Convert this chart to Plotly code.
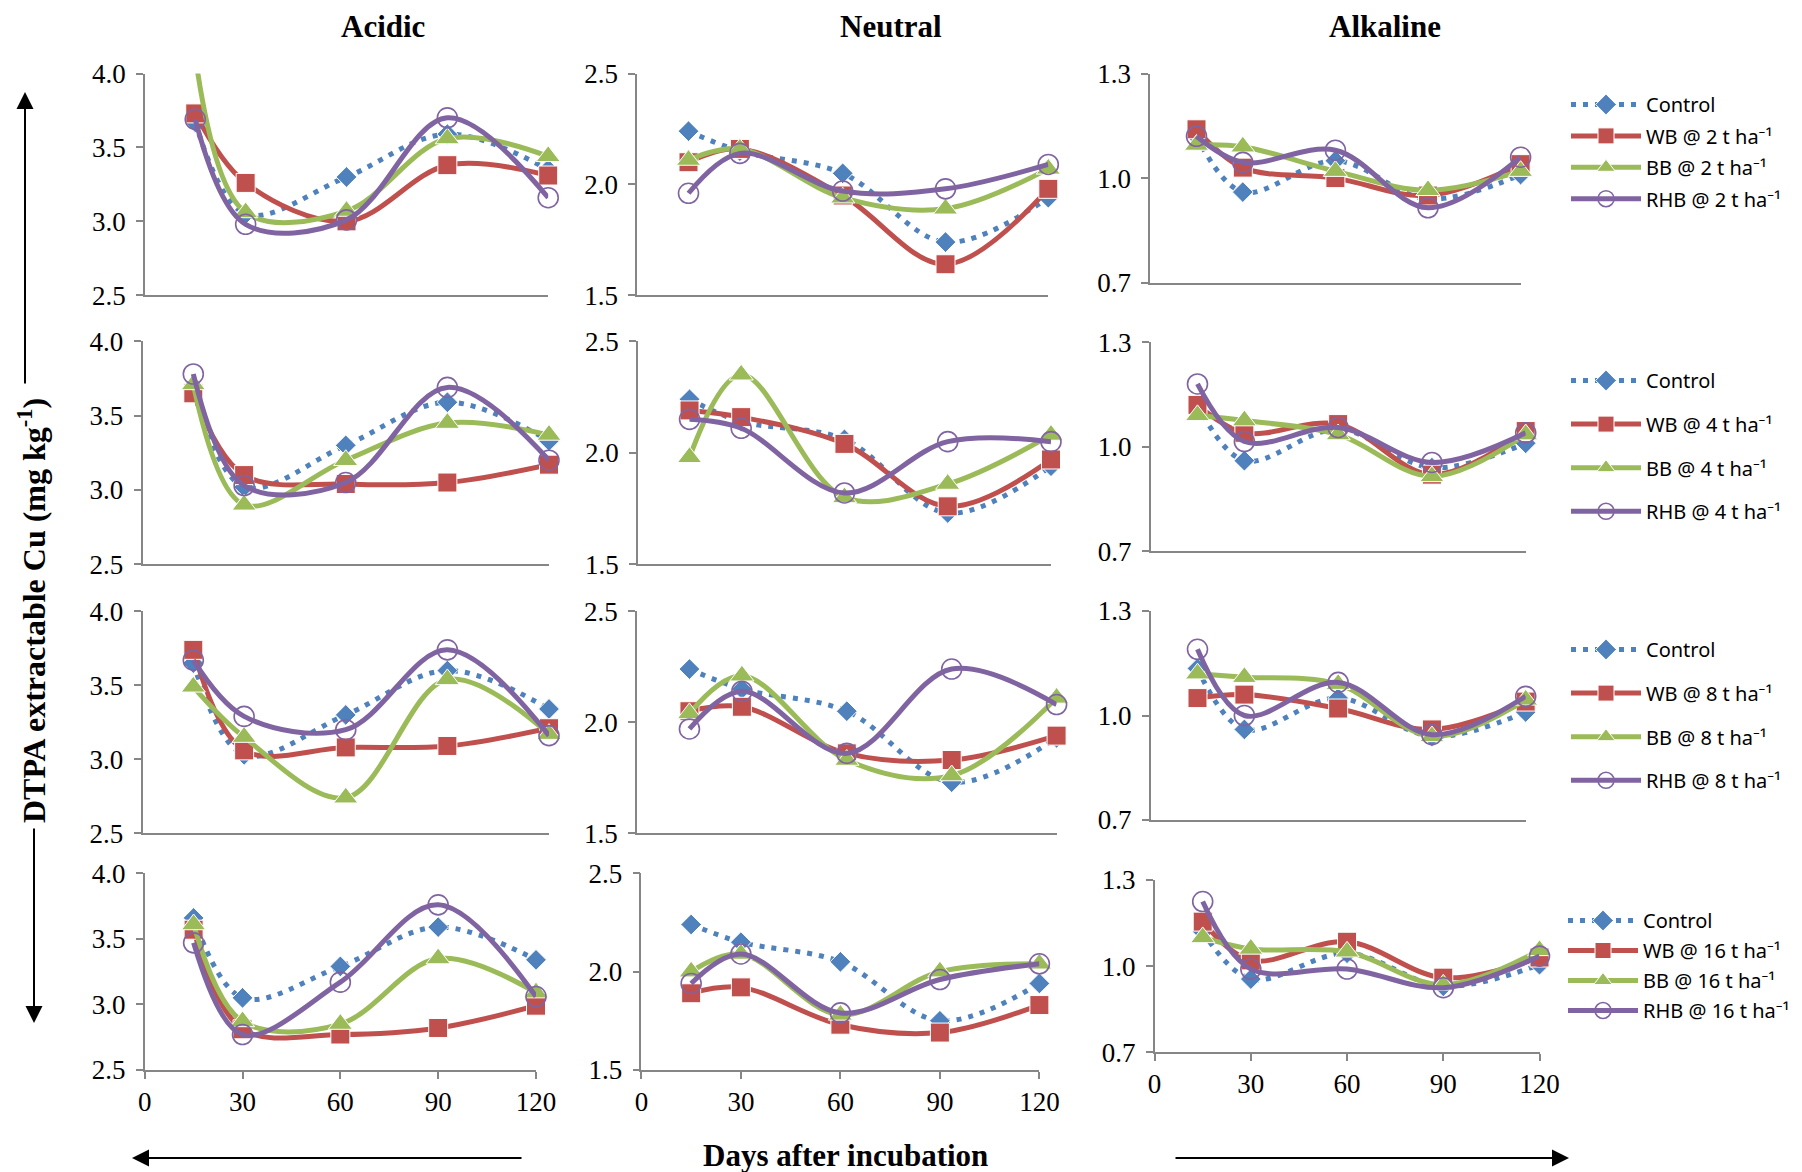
import plotly.graph_objects as go

W, H = 1802, 1172
OFF = 8  # page body margin: figure is drawn 8 px right/down of the window corner

# ---------------- data ----------------
days = [15, 30, 60, 90, 120]
soil_types = ["Acidic", "Neutral", "Alkaline"]
rates = [2, 4, 8, 16]
treatments = ["Control", "WB", "BB", "RHB"]

# each list: one row per application rate (2, 4, 8, 16 t/ha), values at `days`
acidic_control = [[3.67, 3.05, 3.30, 3.59, 3.35], [3.68, 3.02, 3.30, 3.59, 3.33],
                  [3.65, 3.03, 3.30, 3.60, 3.34], [3.66, 3.05, 3.29, 3.59, 3.34]]
acidic_wb = [[3.73, 3.26, 3.00, 3.38, 3.31], [3.65, 3.10, 3.04, 3.05, 3.17],
             [3.74, 3.06, 3.08, 3.09, 3.21], [3.57, 2.81, 2.77, 2.82, 2.99]]
acidic_bb = [[4.12, 3.06, 3.07, 3.56, 3.44], [3.71, 2.90, 3.20, 3.45, 3.37],
             [3.49, 3.15, 2.74, 3.54, 3.17], [3.61, 2.87, 2.85, 3.35, 3.09]]
acidic_rhb = [[3.69, 2.98, 3.01, 3.70, 3.16], [3.78, 3.03, 3.05, 3.69, 3.20],
              [3.67, 3.29, 3.20, 3.74, 3.16], [3.47, 2.77, 3.17, 3.76, 3.06]]

neutral_control = [[2.24, 2.15, 2.05, 1.74, 1.94], [2.24, 2.14, 2.06, 1.73, 1.94],
                   [2.24, 2.15, 2.05, 1.73, 1.93], [2.24, 2.15, 2.05, 1.75, 1.94]]
neutral_wb = [[2.10, 2.16, 1.95, 1.64, 1.98], [2.19, 2.16, 2.04, 1.76, 1.97],
              [2.05, 2.07, 1.86, 1.83, 1.94], [1.89, 1.92, 1.73, 1.69, 1.83]]
neutral_bb = [[2.11, 2.16, 1.94, 1.89, 2.07], [1.98, 2.35, 1.80, 1.86, 2.08],
              [2.04, 2.21, 1.83, 1.76, 2.11], [2.00, 2.09, 1.78, 2.00, 2.04]]
neutral_rhb = [[1.96, 2.14, 1.97, 1.98, 2.09], [2.15, 2.11, 1.82, 2.05, 2.05],
               [1.97, 2.14, 1.86, 2.24, 2.08], [1.94, 2.09, 1.79, 1.96, 2.04]]

alkaline_control = [[1.12, 0.96, 1.05, 0.94, 1.01], [1.12, 0.96, 1.05, 0.94, 1.01],
                    [1.135, 0.96, 1.05, 0.94, 1.01], [1.12, 0.955, 1.045, 0.93, 1.005]]
alkaline_wb = [[1.14, 1.03, 1.00, 0.95, 1.04], [1.12, 1.04, 1.065, 0.92, 1.045],
               [1.05, 1.06, 1.02, 0.96, 1.04], [1.155, 1.02, 1.085, 0.96, 1.03]]
alkaline_bb = [[1.095, 1.09, 1.02, 0.965, 1.02], [1.09, 1.075, 1.035, 0.915, 1.035],
               [1.12, 1.11, 1.09, 0.94, 1.045], [1.10, 1.06, 1.05, 0.935, 1.055]]
alkaline_rhb = [[1.12, 1.045, 1.08, 0.915, 1.06], [1.18, 1.015, 1.055, 0.955, 1.04],
                [1.19, 1.00, 1.095, 0.945, 1.055], [1.225, 0.99, 0.99, 0.925, 1.035]]

y_ranges = [(2.5, 4.0), (1.5, 2.5), (0.7, 1.3)]
y_dticks = [0.5, 0.5, 0.3]
x_ticks = [0, 30, 60, 90, 120]

series = [
    [acidic_control, acidic_wb, acidic_bb, acidic_rhb],
    [neutral_control, neutral_wb, neutral_bb, neutral_rhb],
    [alkaline_control, alkaline_wb, alkaline_bb, alkaline_rhb],
]

# ---------------- layout geometry (window pixels) ----------------
X_PX = [
    [(144.8, 548.2), (142.5, 549.0), (142.5, 549.0), (144.7, 536.0)],
    [(637.1, 1048.3), (637.9, 1051.0), (637.0, 1056.6), (641.4, 1039.4)],
    [(1150.2, 1520.6), (1150.6, 1525.7), (1150.6, 1525.7), (1154.6, 1539.5)],
]
Y_AN = [(73.5, 295.3), (341.3, 564.3), (611.4, 833.2), (873.4, 1069.9)]
Y_PX = [Y_AN, Y_AN, [(73.5, 282.7), (342.1, 551.4), (611.0, 820.0), (880.0, 1052.3)]]


def px(x):
    return (x - OFF) / W


def py(y):
    return 1 - (y - OFF) / H


COLORS = {"Control": "#4F81BD", "WB": "#C0504D", "BB": "#9BBB59", "RHB": "#8064A2"}
SYMBOLS = {"Control": "diamond", "WB": "square", "BB": "triangle-up", "RHB": "circle-open"}
MSIZE = {"Control": 16, "WB": 19, "BB": 21, "RHB": 20}
AXCOL = "#868686"
SERIF = "Liberation Serif, Times New Roman, serif"
SANS = "Noto Sans, Arial, sans-serif"

fig = go.Figure()
layout = {}
legend_names = ["legend", "legend2", "legend3", "legend4"]

for c in range(3):
    lo, hi = y_ranges[c]
    for r in range(4):
        k = r * 3 + c + 1
        xs = "" if k == 1 else str(k)
        x0, x1 = X_PX[c][r]
        y0, y1 = Y_PX[c][r]
        layout["xaxis" + xs] = dict(
            domain=[px(x0), px(x1)], range=[0, 120], anchor="y" + xs,
            showline=True, linecolor=AXCOL, linewidth=1.5, showgrid=False, zeroline=False,
            ticks="outside" if r == 3 else "", ticklen=7, tickcolor=AXCOL, tickwidth=1.5,
            showticklabels=(r == 3), tickvals=x_ticks, ticklabelstandoff=0,
            tickfont=dict(family=SERIF, size=27, color="black"), fixedrange=True)
        layout["yaxis" + xs] = dict(
            domain=[py(y1), py(y0)], range=[lo, hi], anchor="x" + xs,
            showline=True, linecolor=AXCOL, linewidth=1.5, showgrid=False, zeroline=False,
            ticks="outside", ticklen=7, tickcolor=AXCOL, tickwidth=1.5,
            tick0=lo, dtick=y_dticks[c], tickformat=".1f", ticklabelstandoff=5,
            tickfont=dict(family=SERIF, size=27, color="black"), fixedrange=True)
        for t, name in enumerate(treatments):
            vals = series[c][t][r]
            label = name if name == "Control" else f"{name} @ {rates[r]} t ha⁻¹"
            sizes = [MSIZE[name] if lo <= v <= hi else 0 for v in vals]
            line = dict(color=COLORS[name], width=5, shape="spline", smoothing=1)
            if name == "Control":
                line["dash"] = "5px,7px"
            marker = dict(symbol=SYMBOLS[name], size=sizes, color=COLORS[name], opacity=1)
            if name == "RHB":
                marker["line"] = dict(width=1.6, color=COLORS[name])
            fig.add_trace(go.Scatter(
                x=days, y=vals, mode="lines+markers", name=label,
                line=line, marker=marker, xaxis="x" + xs, yaxis="y" + xs,
                cliponaxis=False, showlegend=(c == 2),
                legend=legend_names[r], legendgroup=f"r{r}{name}"))

# legends (left edge, top edge in window px; gap between entries)
leg_top = [85, 361, 630, 901]
leg_gap = [2.4, 14.6, 14.6, 1]
leg_x = [1566, 1566, 1566, 1563]
for r in range(4):
    layout[legend_names[r]] = dict(
        x=px(leg_x[r]), y=py(leg_top[r]), xanchor="left", yanchor="top",
        font=dict(family=SANS, size=20, color="black"), bgcolor="rgba(0,0,0,0)",
        tracegroupgap=leg_gap[r], traceorder="grouped", itemwidth=70)

ann = []
col_title_x = [383, 890.6, 1385]
for c in range(3):
    ann.append(dict(text=f"<b>{soil_types[c]}</b>", x=px(col_title_x[c]), y=py(26),
                    xref="paper", yref="paper", showarrow=False,
                    xanchor="center", yanchor="middle", borderpad=0,
                    font=dict(family=SERIF, size=31, color="black")))
ann.append(dict(text="<b>DTPA extractable Cu (mg kg<sup>-1</sup>)</b>", x=px(32), y=py(611),
                xref="paper", yref="paper", showarrow=False, textangle=-90,
                xanchor="center", yanchor="middle",
                font=dict(family=SERIF, size=32, color="black")))
ann.append(dict(text="<b>Days after incubation</b>", x=px(845), y=py(1155),
                xref="paper", yref="paper", showarrow=False, xanchor="center", yanchor="middle",
                font=dict(family=SERIF, size=31, color="black")))
# arrows (tip at x,y; tail offset ax, ay in px)
for (tx, ty, ax, ay) in [(25, 92, 0, 293), (34, 1023, 0, -196),
                         (132, 1158, 391, 0), (1569, 1158, -395, 0)]:
    ann.append(dict(text="", x=px(tx), y=py(ty), xref="paper", yref="paper",
                    showarrow=True, ax=ax, ay=ay, arrowhead=2, arrowsize=1.7,
                    arrowwidth=2, arrowcolor="black"))

fig.update_layout(**layout)
fig.update_layout(width=W, height=H, margin=dict(l=0, r=0, t=0, b=0, autoexpand=False),
                  paper_bgcolor="white", plot_bgcolor="white", annotations=ann)
fig.write_html("out.html")
